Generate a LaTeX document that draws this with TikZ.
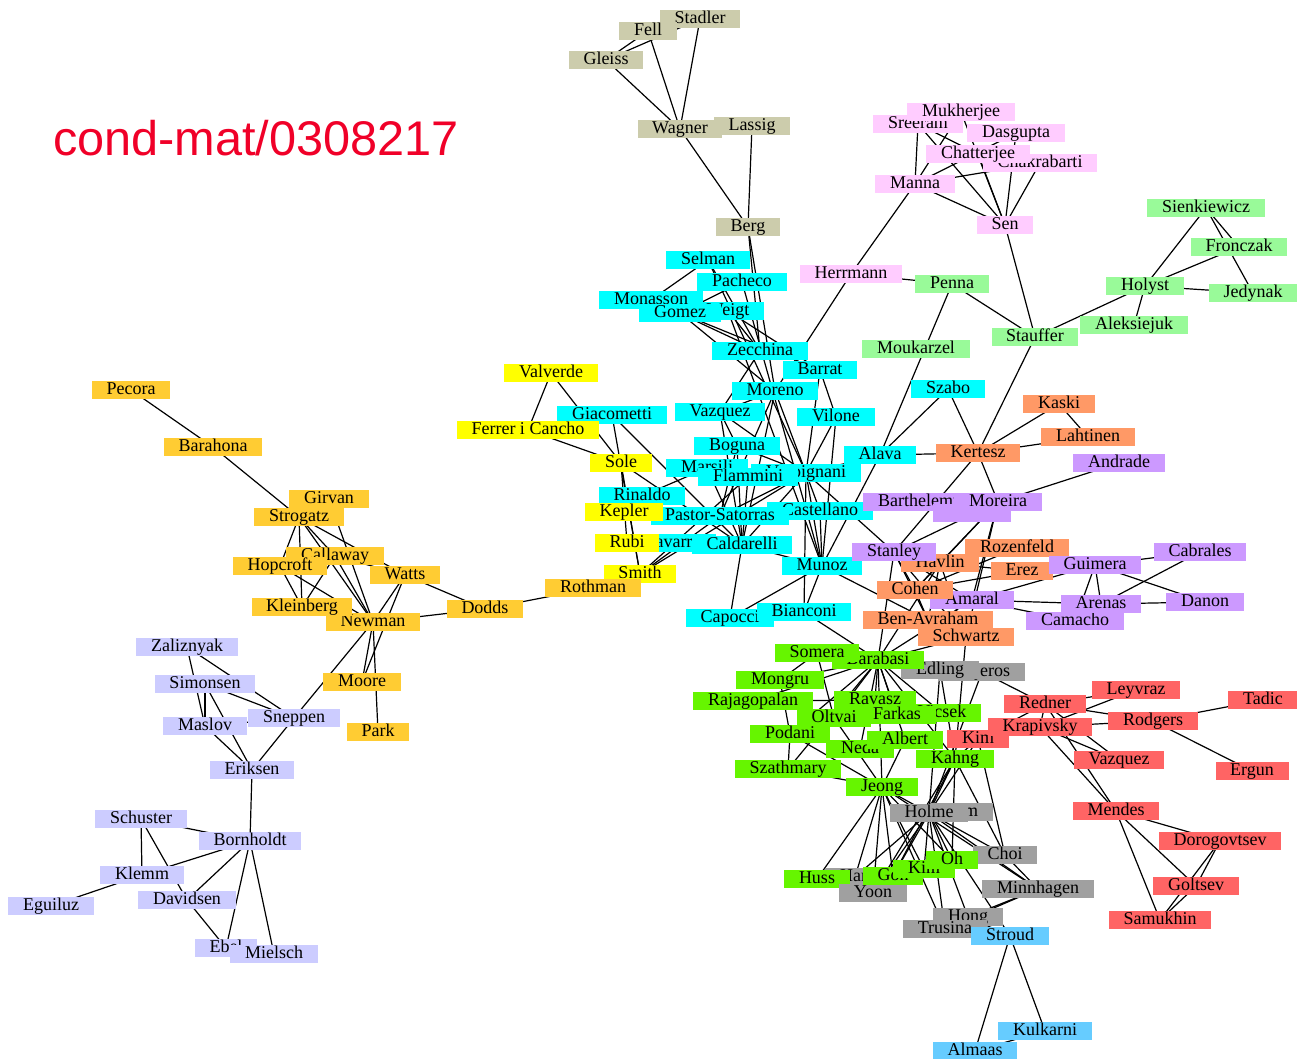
\documentclass[tikz,border=0pt]{standalone}
\usepackage{fontspec}
\setmainfont{Liberation Serif}
\newfontfamily\titlefont{Liberation Sans}
\usetikzlibrary{backgrounds}
\definecolor{ctan}{RGB}{204,204,172}
\definecolor{cpink}{RGB}{255,204,255}
\definecolor{cgreen}{RGB}{153,250,153}
\definecolor{ccyan}{RGB}{0,255,255}
\definecolor{cyel}{RGB}{255,255,0}
\definecolor{corg}{RGB}{255,204,51}
\definecolor{csal}{RGB}{255,153,102}
\definecolor{cpur}{RGB}{204,153,255}
\definecolor{clime}{RGB}{102,245,0}
\definecolor{cgray}{RGB}{160,160,160}
\definecolor{cred}{RGB}{255,100,100}
\definecolor{csky}{RGB}{102,204,255}
\definecolor{clav}{RGB}{204,204,255}
\definecolor{ctitle}{RGB}{240,0,40}
\tikzset{
  nd/.style={rectangle, inner xsep=11pt, inner ysep=0pt, minimum height=14pt,
    text height=9.3pt, text depth=2.7pt, font=\fontsize{13.5}{15}\selectfont},
  lk/.style={draw=black, line width=0.9pt},
  tan/.style={nd, fill=ctan}, pink/.style={nd, fill=cpink}, grn/.style={nd, fill=cgreen},
  cya/.style={nd, fill=ccyan}, yel/.style={nd, fill=cyel}, org/.style={nd, fill=corg},
  sal/.style={nd, fill=csal}, pur/.style={nd, fill=cpur}, lim/.style={nd, fill=clime},
  gry/.style={nd, fill=cgray}, red/.style={nd, fill=cred}, sky/.style={nd, fill=csky},
  lav/.style={nd, fill=clav}
}
\begin{document}
\begin{tikzpicture}[x=0.75pt,y=-0.75pt]
\useasboundingbox (0,0) rectangle (1297,1059);
\node[font=\titlefont\fontsize{36.5}{40}\selectfont, text=ctitle] (title) at (256,138) {cond-mat/0308217};
% tan
\node[tan] (stadler) at (700,19) {Stadler};
\node[tan] (fell) at (648,31) {Fell};
\node[tan] (gleiss) at (606,60) {Gleiss};
\node[tan] (wagner) at (680,129) {Wagner};
\node[tan] (lassig) at (752,126) {Lassig};
\node[tan] (berg) at (748,227) {Berg};
% pink
\node[pink] (sreeram) at (918,124) {Sreeram};
\node[pink] (mukherjee) at (961,112) {Mukherjee};
\node[pink] (dasgupta) at (1016,133) {Dasgupta};
\node[pink] (chakrabarti) at (1040,163) {Chakrabarti};
\node[pink] (chatterjee) at (978,154) {Chatterjee};
\node[pink] (manna) at (915,184) {Manna};
\node[pink] (sen) at (1005,225) {Sen};
\node[pink] (herrmann) at (851,274) {Herrmann};
% green
\node[grn] (sienkiewicz) at (1206,208) {Sienkiewicz};
\node[grn] (fronczak) at (1239,247) {Fronczak};
\node[grn] (holyst) at (1145,286) {Holyst};
\node[grn] (jedynak) at (1253,293) {Jedynak};
\node[grn] (aleksiejuk) at (1134,325) {Aleksiejuk};
\node[grn] (stauffer) at (1035,337) {Stauffer};
\node[grn] (penna) at (952,284) {Penna};
\node[grn] (moukarzel) at (916,349) {Moukarzel};
% cyan
\node[cya] (selman) at (708,260) {Selman};
\node[cya] (pacheco) at (742,282) {Pacheco};
\node[cya] (monasson) at (651,300) {Monasson};
\node[cya] (weigt) at (728,311) {Weigt};
\node[cya] (gomez) at (680,313) {Gomez};
\node[cya] (zecchina) at (760,351) {Zecchina};
\node[cya] (barrat) at (820,370) {Barrat};
\node[cya] (moreno) at (775,391) {Moreno};
\node[cya] (vazc) at (720,412) {Vazquez};
\node[cya] (vilone) at (836,417) {Vilone};
\node[cya] (giacometti) at (612,415) {Giacometti};
\node[cya] (boguna) at (737,446) {Boguna};
\node[cya] (vespignani) at (806,473) {Vespignani};
\node[cya] (marsili) at (707,468) {Marsili};
\node[cya] (flammini) at (748,477) {Flammini};
\node[cya] (alava) at (880,455) {Alava};
\node[cya] (szabo) at (948,389) {Szabo};
\node[cya] (rinaldo) at (642,496) {Rinaldo};
\node[cya] (castellano) at (820,511) {Castellano};
\node[cya] (pastor) at (720,516) {Pastor-Satorras};
\node[cya] (navarro) at (672,543) {Navarro};
\node[cya] (caldarelli) at (742,545) {Caldarelli};
\node[cya] (munoz) at (822,566) {Munoz};
\node[cya] (capocci) at (730,618) {Capocci};
\node[cya] (bianconi) at (804,612) {Bianconi};
% yellow
\node[yel] (valverde) at (551,373) {Valverde};
\node[yel] (ferrer) at (528,430) {Ferrer i Cancho};
\node[yel] (sole) at (621,463) {Sole};
\node[yel] (kepler) at (624,512) {Kepler};
\node[yel] (rubi) at (627,543) {Rubi};
\node[yel] (smith) at (640,574) {Smith};
% salmon / purple
\node[sal] (kaski) at (1059,404) {Kaski};
\node[sal] (lahtinen) at (1088,437) {Lahtinen};
\node[sal] (kertesz) at (978,453) {Kertesz};
\node[pur] (andrade) at (1119,463) {Andrade};
\node[pur] (barthelemy) at (920,502) {Barthelemy};
\node[pur] (purx) at (972,513) {\phantom{Amara}};
\node[pur] (moreira) at (998,502) {Moreira};
\node[sal] (rozenfeld) at (1017,548) {Rozenfeld};
\node[sal] (havlin) at (940,563) {Havlin};
\node[pur] (stanley) at (894,552) {Stanley};
\node[sal] (erez) at (1022,571) {Erez};
\node[pur] (amaral) at (972,600) {Amaral};
\node[sal] (cohen) at (915,590) {Cohen};
\node[sal] (benavraham) at (928,620) {Ben-Avraham};
\node[sal] (schwartz) at (966,637) {Schwartz};
\node[pur] (guimera) at (1095,565) {Guimera};
\node[pur] (cabrales) at (1200,552) {Cabrales};
\node[pur] (camacho) at (1075,621) {Camacho};
\node[pur] (arenas) at (1101,604) {Arenas};
\node[pur] (danon) at (1205,602) {Danon};
% lime / gray
\node[gry] (liljeros) at (982,672) {Liljeros};
\node[gry] (edling) at (940,670) {Edling};
\node[lim] (barabasi) at (878,660) {Barabasi};
\node[lim] (somera) at (817,653) {Somera};
\node[lim] (mongru) at (780,680) {Mongru};
\node[lim] (rajagopalan) at (753,701) {Rajagopalan};
\node[lim] (ravasz) at (875,700) {Ravasz};
\node[lim] (vicsek) at (942,713) {Vicsek};
\node[lim] (farkas) at (897,715) {Farkas};
\node[lim] (oltvai) at (834,718) {Oltvai};
\node[lim] (podani) at (790,734) {Podani};
\node[lim] (neda) at (860,749) {Neda};
\node[lim] (albert) at (905,740) {Albert};
\node[red] (kimr) at (978,739) {Kim};
\node[lim] (kahng) at (955,759) {Kahng};
\node[lim] (szathmary) at (788,769) {Szathmary};
\node[lim] (jeong) at (882,787) {Jeong};
\node[gry] (kimg) at (962,812) {Kim};
\node[gry] (holme) at (929,813) {Holme};
\node[gry] (choi) at (1005,855) {Choi};
\node[gry] (han) at (855,877) {Han};
\node[lim] (huss) at (817,879) {Huss};
\node[gry] (yoon) at (873,893) {Yoon};
\node[lim] (goh) at (893,876) {Goh};
\node[lim] (kiml) at (924,869) {Kim};
\node[lim] (oh) at (952,860) {Oh};
\node[gry] (minnhagen) at (1038,889) {Minnhagen};
\node[gry] (hong) at (968,917) {Hong};
\node[gry] (trusina) at (945,929) {Trusina};
% red
\node[red] (redner) at (1045,704) {Redner};
\node[red] (leyvraz) at (1136,690) {Leyvraz};
\node[red] (tadic) at (1263,700) {Tadic};
\node[red] (krapivsky) at (1040,727) {Krapivsky};
\node[red] (rodgers) at (1153,721) {Rodgers};
\node[red] (vazr) at (1119,760) {Vazquez};
\node[red] (ergun) at (1252,771) {Ergun};
\node[red] (mendes) at (1116,811) {Mendes};
\node[red] (dorogovtsev) at (1220,841) {Dorogovtsev};
\node[red] (goltsev) at (1196,886) {Goltsev};
\node[red] (samukhin) at (1160,920) {Samukhin};
% sky
\node[sky] (stroud) at (1010,936) {Stroud};
\node[sky] (kulkarni) at (1045,1031) {Kulkarni};
\node[sky] (almaas) at (975,1051) {Almaas};
% orange left
\node[org] (pecora) at (131,390) {Pecora};
\node[org] (barahona) at (213,447) {Barahona};
\node[org] (girvan) at (329,499) {Girvan};
\node[org] (strogatz) at (299,517) {Strogatz};
\node[org] (callaway) at (335,556) {Callaway};
\node[org] (hopcroft) at (280,566) {Hopcroft};
\node[org] (watts) at (405,575) {Watts};
\node[org] (newman) at (373,622) {Newman};
\node[org] (kleinberg) at (302,607) {Kleinberg};
\node[org] (dodds) at (485,609) {Dodds};
\node[org] (rothman) at (593,588) {Rothman};
\node[org] (moore) at (362,682) {Moore};
\node[org] (park) at (378,732) {Park};
% lavender
\node[lav] (zaliznyak) at (187,647) {Zaliznyak};
\node[lav] (simonsen) at (205,684) {Simonsen};
\node[lav] (maslov) at (205,726) {Maslov};
\node[lav] (sneppen) at (294,718) {Sneppen};
\node[lav] (eriksen) at (252,770) {Eriksen};
\node[lav] (schuster) at (141,819) {Schuster};
\node[lav] (bornholdt) at (250,841) {Bornholdt};
\node[lav] (klemm) at (142,875) {Klemm};
\node[lav] (eguiluz) at (51,906) {Eguiluz};
\node[lav] (davidsen) at (187,900) {Davidsen};
\node[lav] (ebel) at (226,948) {Ebel};
\node[lav] (mielsch) at (274,954) {Mielsch};
\begin{scope}[on background layer]
\foreach \a/\b in {
 stadler/fell, gleiss/fell, gleiss/stadler, gleiss/wagner, fell/wagner, stadler/wagner,
 wagner/berg, lassig/berg, berg/zecchina, berg/moreno,
 sreeram/manna, sreeram/sen, mukherjee/manna, mukherjee/sen, dasgupta/manna, dasgupta/sen,
 chakrabarti/manna, chakrabarti/sen, chatterjee/sen, sreeram/chatterjee, manna/sen,
 manna/herrmann, sen/stauffer, herrmann/penna, herrmann/moreno,
 holyst/sienkiewicz, holyst/fronczak, holyst/jedynak, holyst/aleksiejuk, holyst/stauffer,
 sienkiewicz/jedynak, sienkiewicz/fronczak, penna/stauffer, penna/alava, stauffer/kertesz,
 selman/monasson, selman/zecchina, selman/vespignani, pacheco/munoz, pacheco/gomez,
 monasson/zecchina, gomez/moreno, gomez/barrat, weigt/zecchina, weigt/barrat, weigt/munoz,
 zecchina/vazc, barrat/vilone, barrat/vespignani, moreno/vazc, moreno/vespignani,
 moreno/pastor, moreno/caldarelli, vazc/boguna, vazc/caldarelli, vazc/vespignani,
 boguna/pastor, boguna/vespignani, boguna/caldarelli, vilone/vespignani, vilone/munoz,
 vespignani/munoz, vespignani/castellano, vespignani/pastor, vespignani/caldarelli,
 vespignani/alava, vespignani/bianconi, vespignani/stanley, marsili/rinaldo,
 marsili/caldarelli, flammini/caldarelli, flammini/smith, caldarelli/capocci,
 caldarelli/munoz, munoz/bianconi, munoz/capocci, castellano/munoz, alava/szabo,
 alava/kertesz, alava/munoz, munoz/benavraham, bianconi/barabasi, giacometti/smith,
 giacometti/caldarelli,
 valverde/ferrer, valverde/sole, ferrer/sole, sole/rubi, sole/smith, sole/caldarelli,
 smith/pastor, smith/vespignani, kepler/pastor,
 kertesz/kaski, kertesz/lahtinen, kaski/lahtinen, kertesz/szabo, kertesz/stanley,
 kertesz/moreira, andrade/moreira, stanley/moreira, stanley/amaral, stanley/havlin,
 stanley/benavraham, stanley/schwartz, stanley/cohen, moreira/amaral, moreira/havlin,
 moreira/cohen, moreira/schwartz, havlin/cohen, havlin/benavraham, havlin/schwartz,
 havlin/erez, cohen/benavraham, cohen/erez, cohen/rozenfeld, benavraham/schwartz,
 guimera/amaral, guimera/arenas, guimera/danon, guimera/camacho, guimera/cabrales,
 cabrales/arenas, arenas/danon, amaral/arenas, amaral/camacho, amaral/barabasi,
 stanley/barabasi,
 barabasi/mongru, barabasi/rajagopalan, barabasi/oltvai, barabasi/ravasz, barabasi/podani,
 barabasi/szathmary, barabasi/jeong, barabasi/albert, barabasi/farkas, barabasi/vicsek,
 barabasi/neda, barabasi/kahng, somera/mongru, somera/oltvai, mongru/podani,
 rajagopalan/ravasz, podani/szathmary, podani/jeong, szathmary/jeong, oltvai/jeong,
 albert/jeong, jeong/huss, jeong/han, jeong/goh, jeong/yoon, jeong/kiml, jeong/oh,
 jeong/holme, jeong/trusina, jeong/minnhagen, holme/yoon, holme/han, holme/goh,
 holme/kiml, holme/oh, holme/trusina, holme/minnhagen, holme/choi, holme/hong,
 holme/stroud, kahng/kimr, kahng/holme, kahng/goh, kahng/oh, kahng/choi, kahng/yoon,
 edling/kahng, edling/holme, liljeros/redner, liljeros/holme, choi/minnhagen,
 minnhagen/hong, minnhagen/trusina, hong/stroud, stroud/almaas, stroud/kulkarni,
 almaas/kulkarni, barabasi/schwartz, barabasi/havlin, schwartz/kahng,
 redner/krapivsky, redner/leyvraz, krapivsky/leyvraz, redner/rodgers, krapivsky/rodgers,
 krapivsky/vazr, redner/vazr, krapivsky/mendes, redner/mendes, kimr/krapivsky,
 kimr/redner, kimr/holme, kimr/choi, rodgers/tadic, rodgers/ergun, mendes/dorogovtsev,
 mendes/goltsev, mendes/samukhin, dorogovtsev/goltsev, dorogovtsev/samukhin,
 goltsev/samukhin,
 pecora/barahona, barahona/strogatz, strogatz/hopcroft, strogatz/kleinberg,
 strogatz/newman, strogatz/watts, strogatz/callaway, girvan/newman, callaway/kleinberg,
 callaway/newman, callaway/watts, hopcroft/kleinberg, hopcroft/newman, watts/newman,
 watts/moore, watts/dodds, newman/dodds, newman/moore, newman/park, newman/sneppen,
 dodds/rothman,
 zaliznyak/maslov, zaliznyak/sneppen, simonsen/maslov, simonsen/sneppen, simonsen/eriksen,
 maslov/sneppen, maslov/eriksen, sneppen/eriksen, eriksen/bornholdt, schuster/bornholdt,
 schuster/klemm, schuster/davidsen, bornholdt/klemm, bornholdt/davidsen, bornholdt/ebel,
 bornholdt/mielsch, klemm/eguiluz, davidsen/ebel}
 \draw[lk] (\a.center) -- (\b.center);
\end{scope}
\end{tikzpicture}
\end{document}
